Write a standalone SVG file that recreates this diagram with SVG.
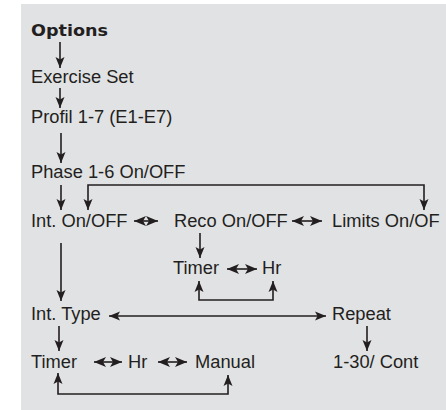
<svg xmlns="http://www.w3.org/2000/svg" width="446" height="410" viewBox="0 0 446 410">
<style>
text{font-family:"Liberation Sans",Arial,sans-serif;font-size:18.3px;fill:#231f20}
.b{font-family:"DejaVu Sans","Liberation Sans",sans-serif;font-weight:bold;font-size:16.5px}
.c{fill:none;stroke:#231f20;stroke-width:1.6;marker-end:url(#ah)}
.d{marker-start:url(#ah)}
.e{fill:none;stroke:#231f20;stroke-width:1.6;marker-start:url(#dh);marker-end:url(#dh)}
</style>
<defs>
<marker id="ah" markerUnits="userSpaceOnUse" markerWidth="12" markerHeight="10" refX="11" refY="4.5" orient="auto-start-reverse" viewBox="0 0 12 9">
<path d="M0,0 L11,4.5 L0,9 L2.5,4.5 z" fill="#231f20"/>
</marker>
<marker id="dh" markerUnits="userSpaceOnUse" markerWidth="13" markerHeight="10" refX="12" refY="5" orient="auto-start-reverse" viewBox="0 0 13 10">
<path d="M0,0 L12,5 L0,10 L3,5 z" fill="#231f20"/>
</marker>
</defs>
<rect x="21" y="4" width="425" height="406" fill="#e1e2e4"/>
<g id="connectors">
<path class="c" d="M60,42 V68"/>
<path class="c" d="M60,88 V108"/>
<path class="c" d="M61,133 V163"/>
<path class="c" d="M61,185 V210"/>
<path class="c d" d="M88,210 V185 H424 V210"/>
<path class="e" d="M134,221 H158"/>
<path class="e" d="M292,221 H322"/>
<path class="c" d="M200,233 V258"/>
<path class="e" d="M227,269 H257"/>
<path class="c d" d="M199,281 V300 H273 V281"/>
<path class="c" d="M61,243 V301"/>
<path class="c d" d="M109,316 H326"/>
<path class="c" d="M367,326 V351"/>
<path class="c" d="M59,326 V351"/>
<path class="e" d="M94,362 H122"/>
<path class="e" d="M158,362 H187"/>
<path class="c d" d="M58,373 V394 H228 V375"/>
</g>
<g id="options"><text class="b" x="31" y="36" textLength="77" lengthAdjust="spacingAndGlyphs">Options</text></g>
<g id="exercise-set"><text x="31" y="83">Exercise Set</text></g>
<g id="profil"><text x="31" y="123">Profil 1-7 (E1-E7)</text></g>
<g id="phase"><text x="31" y="178">Phase 1-6 On/OFF</text></g>
<g id="int-onoff"><text x="31" y="227">Int. On/OFF</text></g>
<g id="reco-onoff"><text x="174" y="227">Reco On/OFF</text></g>
<g id="limits-onoff"><text x="332" y="227">Limits On/OF</text></g>
<g id="reco-timer"><text x="173" y="274">Timer</text></g>
<g id="reco-hr"><text x="262" y="274">Hr</text></g>
<g id="int-type"><text x="31" y="320">Int. Type</text></g>
<g id="repeat"><text x="332" y="320">Repeat</text></g>
<g id="int-timer"><text x="31" y="368">Timer</text></g>
<g id="int-hr"><text x="128" y="368">Hr</text></g>
<g id="int-manual"><text x="195" y="368">Manual</text></g>
<g id="repeat-count"><text x="333" y="368">1-30/ Cont</text></g>
</svg>
